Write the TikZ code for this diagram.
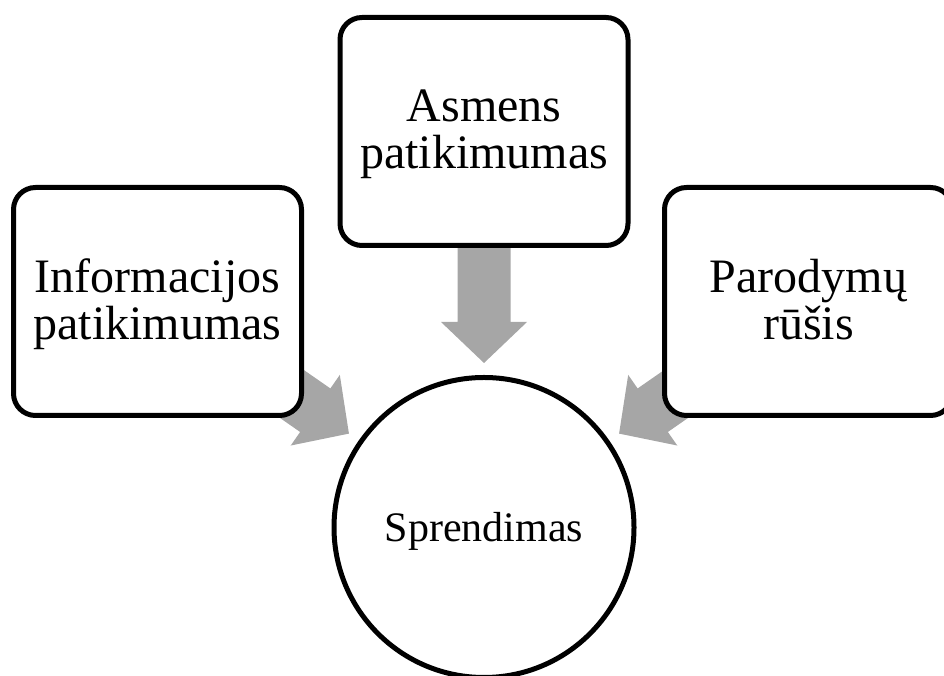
\documentclass[tikz,border=0pt]{standalone}
\usepackage{fontspec}
\setmainfont{Liberation Serif}
\definecolor{arrowgray}{HTML}{A6A6A6}
\begin{document}
\begin{tikzpicture}[x=1pt,y=1pt,
  boxnode/.style={draw=black, line width=5pt, fill=white, rounded corners=22pt,
    minimum width=288pt, minimum height=228pt, inner sep=0pt},
  hub/.style={draw=black, circle, line width=5pt, fill=white,
    minimum size=300pt, inner sep=0pt},
  boxtext/.style={anchor=base, inner sep=0pt, font=\fontsize{48}{46}\selectfont},
  hubtext/.style={anchor=base, inner sep=0pt, font=\fontsize{42}{48}\selectfont},
  blockarrow/.style={fill=arrowgray}]
  \useasboundingbox (0,0) rectangle (944,676);
  \clip (0,0) rectangle (944,676);

  % centre of the decision circle
  \coordinate (c) at (484,148.5);

  % grey block arrows pointing at the circle (tails hidden under the boxes)
  \foreach \ang in {90,145.2,34.8}
    \fill[blockarrow, shift={(c)}, rotate=\ang]
      (164.5,0) -- (205.5,43) -- (205.5,26.5) -- (290,26.5)
      -- (290,-26.5) -- (205.5,-26.5) -- (205.5,-43) -- cycle;

  % factor boxes
  \node[boxnode] (info)  at (157.5,374.5) {};
  \node[boxnode] (asmuo) at (484,544.5) {};
  \node[boxnode] (rusis) at (808.5,374.5) {};

  \node[boxtext] (infoT)  at ([yshift=9pt]info.center)
    {\begin{tabular}[t]{@{}c@{}}Informacijos\\patikimumas\end{tabular}};
  \node[boxtext] (asmuoT) at ([yshift=9.8pt]asmuo.center)
    {\begin{tabular}[t]{@{}c@{}}Asmens\\patikimumas\end{tabular}};
  \node[boxtext] (rusisT) at ([yshift=9pt]rusis.center)
    {\begin{tabular}[t]{@{}c@{}}Parodymų\\rūšis\end{tabular}};

  % decision circle
  \node[hub] (spr) at (c) {};
  \node[hubtext] (sprT) at ([yshift=-14.2pt]spr.center) {Sprendimas};
\end{tikzpicture}
\end{document}
